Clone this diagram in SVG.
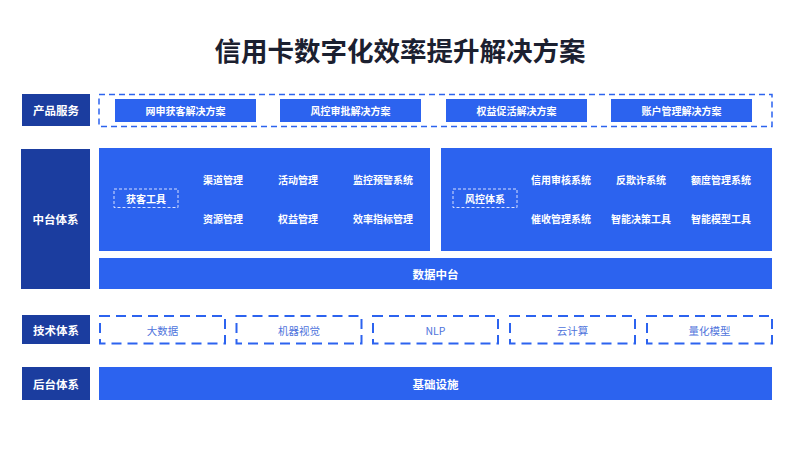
<svg xmlns="http://www.w3.org/2000/svg" width="800" height="450" viewBox="0 0 800 450">
<style>
text{font-family:"Noto Sans CJK SC","Liberation Sans",sans-serif;text-anchor:middle;dominant-baseline:central}
.title{font-size:26.5px;font-weight:700;fill:#1b2030}
.lab{fill:#1b3d9f}
.blue{fill:#2c63ef}
.lt{font-size:11.5px;font-weight:700;fill:#fff}
.it{font-size:10px;font-weight:700;fill:#fff}
.tt{font-size:10.5px;font-weight:400;fill:#4f74dc}
.dash1{fill:none;stroke:#2c63ef;stroke-width:1.5;stroke-dasharray:6 4}
.dash2{fill:none;stroke:#2c63ef;stroke-width:2;stroke-dasharray:10 6}
.dash3{fill:none;stroke:#d6e0ff;stroke-width:1;stroke-dasharray:3 2}
</style>
<rect width="800" height="450" fill="#fff"/>
<text class="title" x="400" y="49">信用卡数字化效率提升解决方案</text>

<g id="row-product">
<rect class="lab" x="22" y="94" width="68" height="32"/>
<text class="lt" x="56" y="110">产品服务</text>
<rect class="dash1" x="99" y="94.5" width="673" height="32"/>
<g id="p1"><rect class="blue" x="115" y="99" width="141" height="23"/><text class="it" x="185.5" y="110.5">网申获客解决方案</text></g>
<g id="p2"><rect class="blue" x="280" y="99" width="141" height="23"/><text class="it" x="350.5" y="110.5">风控审批解决方案</text></g>
<g id="p3"><rect class="blue" x="446" y="99" width="141" height="23"/><text class="it" x="516.5" y="110.5">权益促活解决方案</text></g>
<g id="p4"><rect class="blue" x="611" y="99" width="141" height="23"/><text class="it" x="681.5" y="110.5">账户管理解决方案</text></g>
</g>

<g id="row-middle">
<rect class="lab" x="21" y="149" width="69" height="140"/>
<text class="lt" x="55.5" y="219">中台体系</text>
<g id="left-panel">
<rect class="blue" x="99" y="148" width="331" height="103"/>
<rect class="dash3" x="114" y="189" width="64" height="18.5"/>
<text class="it" x="146" y="198.5">获客工具</text>
<text class="it" x="223" y="179">渠道管理</text>
<text class="it" x="298" y="179">活动管理</text>
<text class="it" x="383" y="179">监控预警系统</text>
<text class="it" x="223" y="218">资源管理</text>
<text class="it" x="298" y="218">权益管理</text>
<text class="it" x="383" y="218">效率指标管理</text>
</g>
<g id="right-panel">
<rect class="blue" x="441" y="148" width="331" height="103"/>
<rect class="dash3" x="453" y="189" width="64" height="18.5"/>
<text class="it" x="485" y="198.5">风控体系</text>
<text class="it" x="561" y="179">信用审核系统</text>
<text class="it" x="641" y="179">反欺诈系统</text>
<text class="it" x="721" y="179">额度管理系统</text>
<text class="it" x="561" y="218">催收管理系统</text>
<text class="it" x="641" y="218">智能决策工具</text>
<text class="it" x="721" y="218">智能模型工具</text>
</g>
<g id="data-center">
<rect class="blue" x="99" y="258" width="673" height="31"/>
<text class="lt" x="435.5" y="273.5">数据中台</text>
</g>
</g>

<g id="row-tech">
<rect class="lab" x="22" y="315" width="68" height="29"/>
<text class="lt" x="56" y="329.5">技术体系</text>
<g id="t1"><rect class="dash2" x="100" y="316" width="125" height="27.5"/><text class="tt" x="162.5" y="330">大数据</text></g>
<g id="t2"><rect class="dash2" x="236.5" y="316" width="125" height="27.5"/><text class="tt" x="299" y="330">机器视觉</text></g>
<g id="t3"><rect class="dash2" x="373" y="316" width="125" height="27.5"/><text class="tt" x="435.5" y="330">NLP</text></g>
<g id="t4"><rect class="dash2" x="510" y="316" width="125" height="27.5"/><text class="tt" x="572.5" y="330">云计算</text></g>
<g id="t5"><rect class="dash2" x="647" y="316" width="125" height="27.5"/><text class="tt" x="709.5" y="330">量化模型</text></g>
</g>

<g id="row-back">
<rect class="lab" x="22" y="367" width="68" height="33"/>
<text class="lt" x="56" y="383.5">后台体系</text>
<rect class="blue" x="99" y="367" width="673" height="33"/>
<text class="lt" x="435.5" y="383.5">基础设施</text>
</g>

<g id="connectors"></g>
</svg>
